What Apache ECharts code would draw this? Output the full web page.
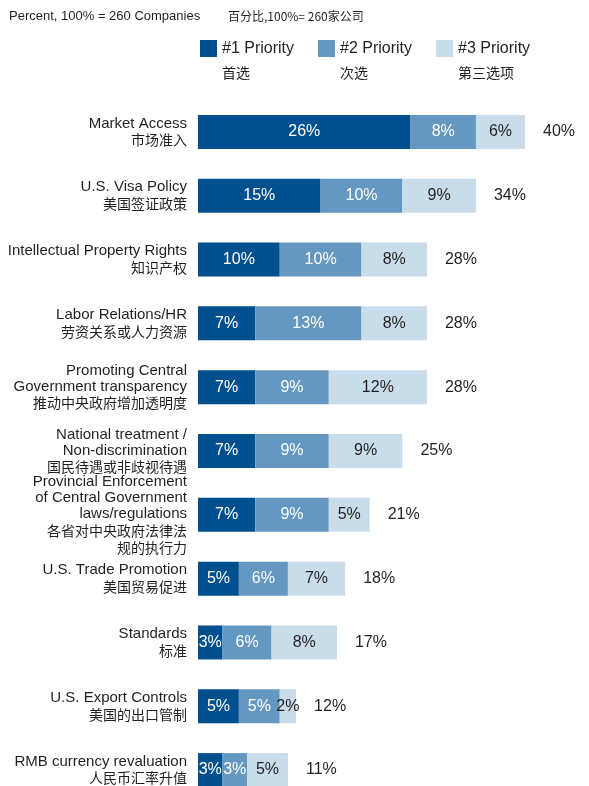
<!DOCTYPE html>
<html>
<head>
<meta charset="utf-8">
<script src="https://cdn.jsdelivr.net/npm/echarts@6/dist/echarts.min.js"></script>
<style>
  html, body { margin: 0; padding: 0; background: #fff; }
  #chart { width: 589px; height: 786px; }
</style>
</head>
<body>
<div id="chart"></div>
<script>
const categoriesEn = [
  "Market Access",
  "U.S. Visa Policy",
  "Intellectual Property Rights",
  "Labor Relations/HR",
  "Promoting Central\nGovernment transparency",
  "National treatment /\nNon-discrimination",
  "Provincial Enforcement\nof Central Government\nlaws/regulations",
  "U.S. Trade Promotion",
  "Standards",
  "U.S. Export Controls",
  "RMB currency revaluation",
];
const categoriesCn = [
  "市场准入",
  "美国签证政策",
  "知识产权",
  "劳资关系或人力资源",
  "推动中央政府增加透明度",
  "国民待遇或非歧视待遇",
  "各省对中央政府法律法\n规的执行力",
  "美国贸易促进",
  "标准",
  "美国的出口管制",
  "人民币汇率升值",
];
const seriesNames = ["#1 Priority", "#2 Priority", "#3 Priority"];
const seriesNamesCn = ["首选", "次选", "第三选项"];
const priority1 = [26, 15, 10, 7, 7, 7, 7, 5, 3, 5, 3];
const priority2 = [8, 10, 10, 13, 9, 9, 9, 6, 6, 5, 3];
const priority3 = [6, 9, 8, 8, 12, 9, 5, 7, 8, 2, 5];
const totals = [40, 34, 28, 28, 28, 25, 21, 18, 17, 12, 11];

const SANS = "'Liberation Sans', Arial, sans-serif";
const CJK = "'Noto Sans CJK SC', sans-serif";
const colors = ["#00508f", "#6598c1", "#c9dce9"];
const textColor = "#231f20";

const chart = echarts.init(document.getElementById("chart"));

function categoryLabel(value, index) {
  const en = categoriesEn[index].split("\n").map((s) => `{en|${s}}`);
  const cn = categoriesCn[index].split("\n").map((s) => `{cn|${s}}`);
  return en.concat(cn).join("\n");
}

function barSeries(name, data, color, labelColor) {
  return {
    name,
    type: "bar",
    stack: "total",
    barWidth: 34,
    data,
    itemStyle: { color },
    label: {
      show: true,
      position: "inside",
      formatter: "{c}%",
      color: labelColor,
      fontFamily: SANS,
      fontSize: 16,
    },
  };
}

chart.setOption({
  animation: false,
  title: [
    {
      text: "Percent, 100% = 260 Companies",
      left: 9,
      top: 10,
      padding: 0,
      textStyle: { fontFamily: SANS, fontSize: 13, fontWeight: "normal", color: textColor },
    },
    {
      text: "百分比,100%= 260家公司",
      left: 228,
      top: 10,
      padding: 0,
      textStyle: { fontFamily: CJK, fontSize: 12, fontWeight: "normal", color: textColor },
    },
  ],
  legend: [
    {
      data: seriesNames,
      left: 200,
      top: 40,
      padding: 0,
      itemGap: 24,
      itemWidth: 17,
      itemHeight: 17,
      icon: "rect",
      selectedMode: false,
      textStyle: { fontFamily: SANS, fontSize: 16, color: textColor },
    },
    {
      data: seriesNames,
      left: 200,
      top: 64,
      padding: 0,
      itemGap: 68,
      itemWidth: 17,
      itemHeight: 17,
      icon: "rect",
      selectedMode: false,
      itemStyle: { opacity: 0 },
      formatter: (name) => seriesNamesCn[seriesNames.indexOf(name)],
      textStyle: { fontFamily: CJK, fontSize: 14, color: textColor },
    },
  ],
  grid: {
    left: 198,
    right: 64,
    top: 100,
    height: 702,
    outerBoundsMode: "none",
  },
  xAxis: {
    type: "value",
    min: 0,
    max: 40,
    show: false,
  },
  yAxis: {
    type: "category",
    inverse: true,
    data: categoriesEn,
    axisLine: { show: false },
    axisTick: { show: false },
    splitLine: { show: false },
    axisLabel: {
      margin: 11,
      align: "right",
      formatter: categoryLabel,
      rich: {
        en: { fontFamily: SANS, fontSize: 15, lineHeight: 16, color: textColor, align: "right" },
        cn: { fontFamily: CJK, fontSize: 14, lineHeight: 17, color: textColor, align: "right" },
      },
    },
  },
  series: [
    barSeries(seriesNames[0], priority1, colors[0], "#fff"),
    barSeries(seriesNames[1], priority2, colors[1], "#fff"),
    barSeries(seriesNames[2], priority3, colors[2], textColor),
    {
      name: "Total",
      type: "scatter",
      symbolSize: 0,
      itemStyle: { opacity: 1 },
      data: totals.map((t, i) => [t, categoriesEn[i]]),
      label: {
        show: true,
        position: "right",
        distance: 18,
        formatter: (p) => p.value[0] + "%",
        color: textColor,
        fontFamily: SANS,
        fontSize: 16,
      },
    },
  ],
});
</script>
</body>
</html>
